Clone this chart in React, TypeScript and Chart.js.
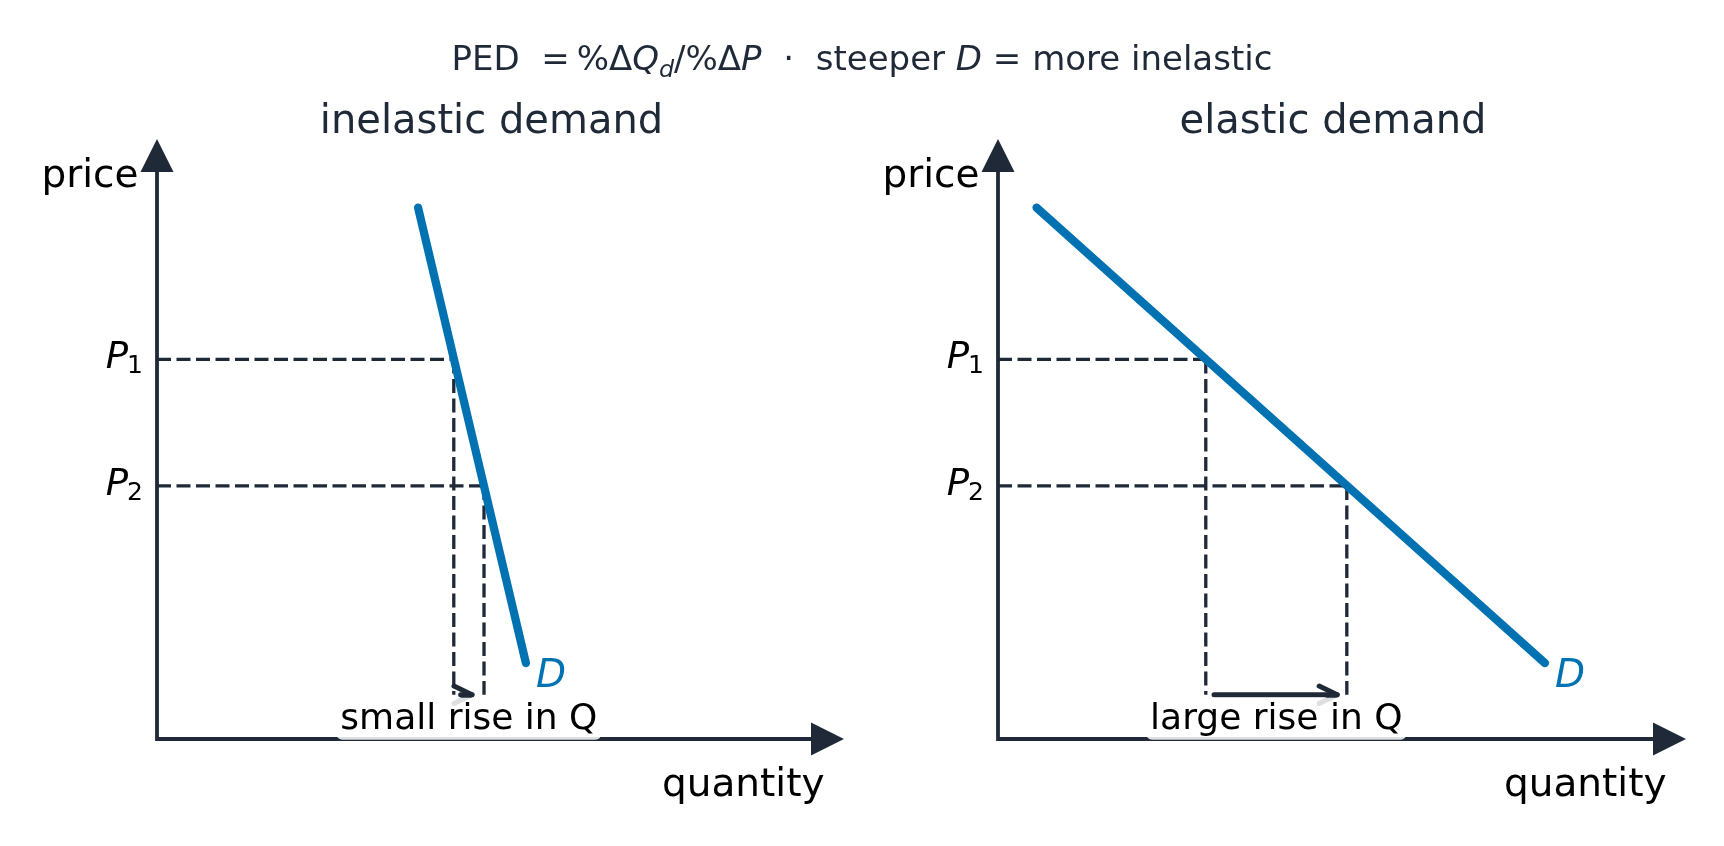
import React, { useEffect, useRef } from "react";
import { Chart, registerables } from "chart.js";

Chart.register(...registerables);

// ---------- data ----------
const PANEL_TITLES = ["inelastic demand", "elastic demand"];
const PRICE_LEVELS = [6, 4]; // P1, P2
const PRICE_SUBSCRIPTS = ["1", "2"];
const INELASTIC_DEMAND = [
  { x: 3.8, y: 8.4 },
  { x: 5.37, y: 1.2 },
];
const ELASTIC_DEMAND = [
  { x: 0.56, y: 8.4 },
  { x: 7.95, y: 1.2 },
];
const INELASTIC_QUANTITIES = [4.32, 4.76]; // Q at P1, Q at P2
const ELASTIC_QUANTITIES = [3.02, 5.07];
const INELASTIC_ARROW = [4.42, 4.585];
const ELASTIC_ARROW = [3.14, 4.93];
const ARROW_LEVEL = 0.7;
const NOTE_LEVEL = 0.35;
const NOTES = ["small rise in Q", "large rise in Q"];
const DEMAND_LABEL = "D";
const X_LABEL = "quantity";
const Y_LABEL = "price";
const X_MAX = 10;
const Y_MAX = 9.5;

// ---------- style ----------
const AXIS = "#1f2937";
const BLUE = "#0072B2";
const FONT = '"DejaVu Sans", "Noto Sans", sans-serif';

type Pt = { x: number; y: number };
type Panel = {
  title: string;
  demand: Pt[];
  q: number[];
  arrow: number[];
  note: string;
  padding: { left: number; right: number; top: number; bottom: number };
};

const PANELS: Panel[] = [
  {
    title: PANEL_TITLES[0],
    demand: INELASTIC_DEMAND,
    q: INELASTIC_QUANTITIES,
    arrow: INELASTIC_ARROW,
    note: NOTES[0],
    padding: { left: 157, right: 18, top: 138, bottom: 107 },
  },
  {
    title: PANEL_TITLES[1],
    demand: ELASTIC_DEMAND,
    q: ELASTIC_QUANTITIES,
    arrow: ELASTIC_ARROW,
    note: NOTES[1],
    padding: { left: 136, right: 38, top: 138, bottom: 107 },
  },
];

function makePlugin(p: Panel) {
  return {
    id: "econAnnotations",
    beforeDatasetsDraw(chart: any) {
      const { ctx, chartArea: a } = chart;
      ctx.save();
      ctx.strokeStyle = AXIS;
      ctx.fillStyle = AXIS;
      ctx.lineWidth = 3.8;
      ctx.lineJoin = "miter";
      ctx.lineCap = "butt";
      ctx.beginPath();
      ctx.moveTo(a.left, a.top + 30);
      ctx.lineTo(a.left, a.bottom);
      ctx.lineTo(a.right - 30, a.bottom);
      ctx.stroke();
      // x arrow head
      ctx.beginPath();
      ctx.moveTo(a.right, a.bottom);
      ctx.lineTo(a.right - 33, a.bottom - 16.5);
      ctx.lineTo(a.right - 33, a.bottom + 16.5);
      ctx.closePath();
      ctx.fill();
      // y arrow head
      ctx.beginPath();
      ctx.moveTo(a.left, a.top + 1);
      ctx.lineTo(a.left - 16.5, a.top + 34);
      ctx.lineTo(a.left + 16.5, a.top + 34);
      ctx.closePath();
      ctx.fill();
      ctx.restore();
    },
    afterDatasetsDraw(chart: any) {
      const { ctx, chartArea: a, scales } = chart;
      const xs = scales.x;
      const ys = scales.y;
      ctx.save();

      // arrow head of the "rise" arrow
      const tipX = xs.getPixelForValue(p.arrow[1]);
      const tipY = ys.getPixelForValue(ARROW_LEVEL);
      ctx.strokeStyle = AXIS;
      ctx.lineWidth = 5;
      ctx.lineCap = "round";
      ctx.lineJoin = "round";
      ctx.beginPath();
      ctx.moveTo(tipX - 18, tipY - 8.7);
      ctx.lineTo(tipX, tipY);
      ctx.lineTo(tipX - 18, tipY + 8.7);
      ctx.stroke();

      // note box + text
      const midX = xs.getPixelForValue((p.q[0] + p.q[1]) / 2);
      const noteY = ys.getPixelForValue(NOTE_LEVEL);
      ctx.font = `36px ${FONT}`;
      const w = ctx.measureText(p.note).width;
      const bx = midX - w / 2 - 4;
      const bw = w + 8;
      const by = noteY - 19;
      const bh = 42;
      ctx.fillStyle = "rgba(255,255,255,0.85)";
      ctx.beginPath();
      (ctx as any).roundRect(bx, by, bw, bh, 6);
      ctx.fill();
      ctx.fillStyle = "#000";
      ctx.textAlign = "center";
      ctx.textBaseline = "alphabetic";
      ctx.fillText(p.note, midX, noteY + 12);

      // price labels P1, P2
      PRICE_LEVELS.forEach((lvl, i) => {
        const y = ys.getPixelForValue(lvl);
        const right = a.left - 14;
        ctx.font = `25px ${FONT}`;
        ctx.textAlign = "right";
        ctx.fillStyle = "#000";
        const sw = ctx.measureText(PRICE_SUBSCRIPTS[i]).width;
        ctx.fillText(PRICE_SUBSCRIPTS[i], right, y + 14);
        ctx.font = `italic 37px ${FONT}`;
        ctx.fillText("P", right - sw + 1, y + 9);
      });

      // D label
      const end = p.demand[p.demand.length - 1];
      ctx.font = `italic 39px ${FONT}`;
      ctx.fillStyle = BLUE;
      ctx.textAlign = "left";
      ctx.textBaseline = "middle";
      ctx.fillText(DEMAND_LABEL, xs.getPixelForValue(end.x) + 10, ys.getPixelForValue(end.y) + 14);

      // axis labels
      ctx.textBaseline = "alphabetic";
      ctx.fillStyle = "#000";
      ctx.font = `39px ${FONT}`;
      ctx.textAlign = "right";
      ctx.fillText(Y_LABEL, a.left - 18.5, a.top + 49);
      ctx.fillText(X_LABEL, a.right - 19.5, a.bottom + 57);

      // panel title
      ctx.fillStyle = AXIS;
      ctx.textAlign = "center";
      ctx.font = `40px ${FONT}`;
      ctx.fillText(p.title, (a.left + a.right) / 2 - 9, 133);
      ctx.restore();
    },
  };
}

function PanelChart({ panel, left }: { panel: Panel; left: number }) {
  const ref = useRef<HTMLCanvasElement | null>(null);
  useEffect(() => {
    if (!ref.current) return;
    const p = panel;
    const dashed = {
      borderColor: AXIS,
      borderWidth: 3.3,
      borderDash: [14, 5.5],
      pointRadius: 0,
      fill: false,
      order: 2,
    };
    const chart = new Chart(ref.current, {
      type: "line",
      data: {
        datasets: [
          {
            data: p.demand,
            borderColor: BLUE,
            borderWidth: 8.3,
            borderCapStyle: "round",
            pointRadius: 0,
            fill: false,
            order: 0,
          } as any,
          { ...dashed, data: [{ x: 0, y: PRICE_LEVELS[0] }, { x: p.q[0], y: PRICE_LEVELS[0] }] },
          { ...dashed, data: [{ x: 0, y: PRICE_LEVELS[1] }, { x: p.q[1], y: PRICE_LEVELS[1] }] },
          { ...dashed, data: [{ x: p.q[0], y: PRICE_LEVELS[0] }, { x: p.q[0], y: ARROW_LEVEL }] },
          { ...dashed, data: [{ x: p.q[1], y: PRICE_LEVELS[1] }, { x: p.q[1], y: ARROW_LEVEL }] },
          {
            data: [{ x: p.arrow[0], y: ARROW_LEVEL }, { x: p.arrow[1], y: ARROW_LEVEL }],
            borderColor: AXIS,
            borderWidth: 5,
            borderCapStyle: "round",
            pointRadius: 0,
            fill: false,
            order: 1,
          } as any,
        ],
      },
      options: {
        responsive: false,
        animation: false,
        events: [],
        parsing: false as any,
        layout: { padding: p.padding },
        scales: {
          x: { type: "linear", min: 0, max: X_MAX, display: false },
          y: { type: "linear", min: 0, max: Y_MAX, display: false },
        },
        plugins: {
          legend: { display: false },
          tooltip: { enabled: false },
          title: { display: false },
        },
      },
      plugins: [makePlugin(p)],
    });
    return () => chart.destroy();
  }, [panel]);
  return (
    <canvas
      ref={ref}
      width={862}
      height={846}
      style={{ position: "absolute", left, top: 0, width: 862, height: 846 }}
    />
  );
}

export default function App() {
  useEffect(() => {
    document.body.style.margin = "0";
  }, []);
  return (
    <div
      style={{
        position: "fixed",
        left: 0,
        top: 0,
        width: 1724,
        height: 846,
        background: "#fff",
        overflow: "hidden",
      }}
    >
      <PanelChart panel={PANELS[0]} left={0} />
      <PanelChart panel={PANELS[1]} left={862} />
      <div
        style={{
          position: "absolute",
          left: 0,
          top: 41,
          width: 1724,
          textAlign: "center",
          fontFamily: FONT,
          fontSize: 34,
          lineHeight: "34px",
          color: AXIS,
          whiteSpace: "pre",
        }}
      >
        {"PED  =\u2009%Δ"}
        <i>Q</i>
        <i style={{ fontSize: "0.7em", position: "relative", top: "0.28em" }}>d</i>
        {"/%Δ"}
        <i>P</i>
        {"  ·  steeper "}
        <i>D</i>
        {" = more inelastic"}
      </div>
    </div>
  );
}
